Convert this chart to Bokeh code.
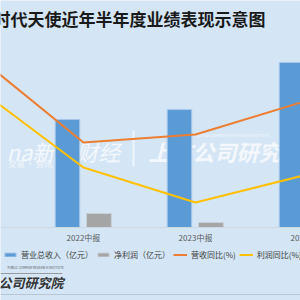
from bokeh.plotting import figure
from bokeh.models import Range1d, Label, Span, Legend, LegendItem, ColumnDataSource, BoxAnnotation
from bokeh.core.properties import value
from bokeh.embed import file_html
from bokeh.resources import INLINE

title = "时代天使近年半年度业绩表现示意图"
categories = ["2021中报", "2022中报", "2023中报", "2024中报"]
bar_categories = ["2022中报", "2023中报", "2024中报"]
revenue = [6.30, 6.88, 9.63]
profit_categories = ["2022中报", "2023中报"]
net_profit = [0.82, 0.29]
revenue_yoy = [99, 8, 16, 50]
profit_yoy = [67, -17, -52, -24]
legend_labels = ["营业总收入（亿元）", "净利润（亿元）", "营收同比(%)", "利润同比(%)"]

FONT = "Noto Sans CJK SC"
BG = "#d4e6f5"
BLUE = "#5b9bd5"
GRAY = "#a5a5a5"
ORANGE = "#ed7d31"
YELLOW = "#ffc000"

idx = {c: i for i, c in enumerate(categories)}

p = figure(width=300, height=300, output_backend="svg", toolbar_location=None,
           x_axis_type=None, y_axis_type=None,
           x_range=Range1d(0.259, 2.9375), y_range=Range1d(-4.259, 13.244),
           min_border=0, background_fill_color=BG, border_fill_color=BG,
           outline_line_color=None)
p.grid.visible = False
p.extra_y_ranges = {"pct": Range1d(-150, 150)}

# watermark (under the bars)
wm = dict(x_units="screen", y_units="screen", text_color="white", text_alpha=0.75,
          text_font=FONT, level="underlay", text_baseline="middle")
p.add_layout(Label(x=6, y=150, text="na新浪财经", text_font_size="22px",
                   text_font_style="italic", **wm))
p.add_layout(Label(x=8, y=137, text="交易 · 资讯 · 服务", text_font_size="8px", **wm))
p.add_layout(Label(x=148, y=150, text="上市公司研究院", text_font_size="22px",
                   text_font_style="bold italic", **wm))
p.add_layout(Label(x=195, y=166, text="LISTED COMPANY RESEARCH INSTITUTE",
                   text_font_size="4px", **wm))
p.add_layout(BoxAnnotation(left=132, right=134, top=170, bottom=134,
                           left_units="screen", right_units="screen",
                           top_units="screen", bottom_units="screen",
                           fill_color="white", fill_alpha=0.6, line_color=None,
                           level="underlay"))

# baseline
p.add_layout(Span(location=0, dimension="width", line_color="#cfd8e1", line_width=1))

blue_src = ColumnDataSource(dict(x=[idx[c] - 0.143 for c in bar_categories], top=revenue))
gray_src = ColumnDataSource(dict(x=[idx[c] + 0.138 for c in profit_categories], top=net_profit))
r_blue = p.vbar(x="x", top="top", bottom=0, width=0.219, source=blue_src,
                fill_color=BLUE, line_color="#a8c8ea", line_width=1)
r_gray = p.vbar(x="x", top="top", bottom=0, width=0.222, source=gray_src,
                fill_color=GRAY, line_color="#c8d0d8", line_width=1)

xs = [idx[c] for c in categories]
r_or = p.line(xs, revenue_yoy, y_range_name="pct", line_color=ORANGE, line_width=2)
r_ye = p.line(xs, profit_yoy, y_range_name="pct", line_color=YELLOW, line_width=2)

# category labels (visible categories)
p.text(x=[idx[c] for c in bar_categories], y=[-0.58] * len(bar_categories),
       text=bar_categories, text_font=value(FONT),
       text_font_size="8px", text_color="#595959", text_align="center",
       text_baseline="middle")

legend = Legend(items=[LegendItem(label=legend_labels[0], renderers=[r_blue]),
                       LegendItem(label=legend_labels[1], renderers=[r_gray]),
                       LegendItem(label=legend_labels[2], renderers=[r_or]),
                       LegendItem(label=legend_labels[3], renderers=[r_ye])],
                location=(3, 40), orientation="horizontal",
                background_fill_alpha=0, border_line_color=None,
                padding=0, margin=0, spacing=3, label_standoff=4,
                glyph_width=14, glyph_height=5, label_height=10, label_width=10,
                label_text_font=FONT, label_text_font_size="8px",
                label_text_color="#404040", label_text_baseline="middle")
p.add_layout(legend)

# title
p.add_layout(Label(x=-7, y=282, x_units="screen", y_units="screen", text=title,
                   text_font=FONT, text_font_size="17px", text_font_style="bold",
                   text_color="#1a1a1a", text_baseline="middle"))

# bottom logo
p.add_layout(Label(x=-2, y=18, x_units="screen", y_units="screen", text="公司研究院",
                   text_font=FONT, text_font_size="13px", text_font_style="bold italic",
                   text_color="#333333", text_baseline="middle"))
p.add_layout(Label(x=7, y=33, x_units="screen", y_units="screen",
                   text="PUBLIC COMPANY RESEARCH INSTITUTE",
                   text_font=FONT, text_font_size="3px", text_color="#555555",
                   text_baseline="middle"))
p.add_layout(BoxAnnotation(left=0, right=62, top=27.5, bottom=26.5,
                           left_units="screen", right_units="screen",
                           top_units="screen", bottom_units="screen",
                           fill_color="#888888", fill_alpha=0.8, line_color=None))
p.add_layout(Span(location=6, location_units="screen", dimension="width",
                  line_color="#b9c7d5", line_width=1))

open("out.html", "w").write(file_html(p, INLINE))
